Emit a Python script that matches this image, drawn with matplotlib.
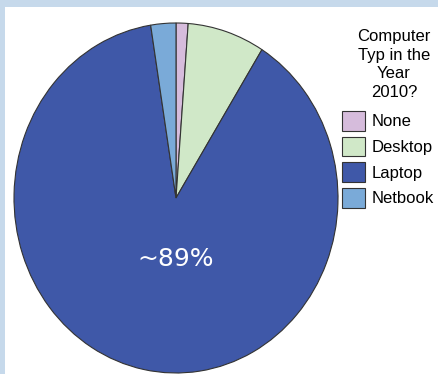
import matplotlib
matplotlib.use('Agg')
import matplotlib.pyplot as plt
from matplotlib.patches import Rectangle

plt.rcParams['font.family'] = ['Liberation Sans', 'DejaVu Sans']

labels = ['None', 'Desktop', 'Laptop', 'Netbook']
shares = [1.2, 7.7, 88.6, 2.5]  # percent
colors = ['#d6bcdc', '#d0e8c8', '#3f58a8', '#7aaad8']
title = 'Computer\nTyp in the\nYear\n2010?'

W, H = 438, 374
fig = plt.figure(figsize=(W / 100, H / 100), dpi=100)
fig.patch.set_facecolor('white')

# light blue frame strips along the top and left
band = '#c6d9eb'
fig.patches.append(Rectangle((0, 1 - 7 / H), 1, 7 / H, transform=fig.transFigure,
                             facecolor=band, edgecolor='none', zorder=0))
fig.patches.append(Rectangle((0, 0), 5 / W, 1, transform=fig.transFigure,
                             facecolor=band, edgecolor='none', zorder=0))

ax = fig.add_axes([14 / W, 1 / H, 324 / W, 350 / H])
wedges, _ = ax.pie(shares, colors=colors, startangle=90, counterclock=False,
                   wedgeprops=dict(edgecolor='#333333', linewidth=0.8))
for w in wedges:
    w.set_clip_on(False)
ax.set_aspect('auto')
ax.set_xlim(-1, 1)
ax.set_ylim(-1, 1)
ax.axis('off')

ax.text(0, -0.35, f'~{round(shares[2])}%', color='white', fontsize=18,
        family='DejaVu Sans', ha='center', va='center')

fig.text(394 / W, 1 - 29 / H, title, ha='center', va='top', fontsize=12,
         multialignment='center', linespacing=1.3)

fig.legend(wedges, labels, loc='upper left', bbox_to_anchor=(342 / W, 1 - 111 / H),
           frameon=False, fontsize=12, borderpad=0, borderaxespad=0,
           handlelength=1.35, handleheight=1.45, handletextpad=0.4,
           labelspacing=0.35)

fig.savefig('out.png', dpi=100)
